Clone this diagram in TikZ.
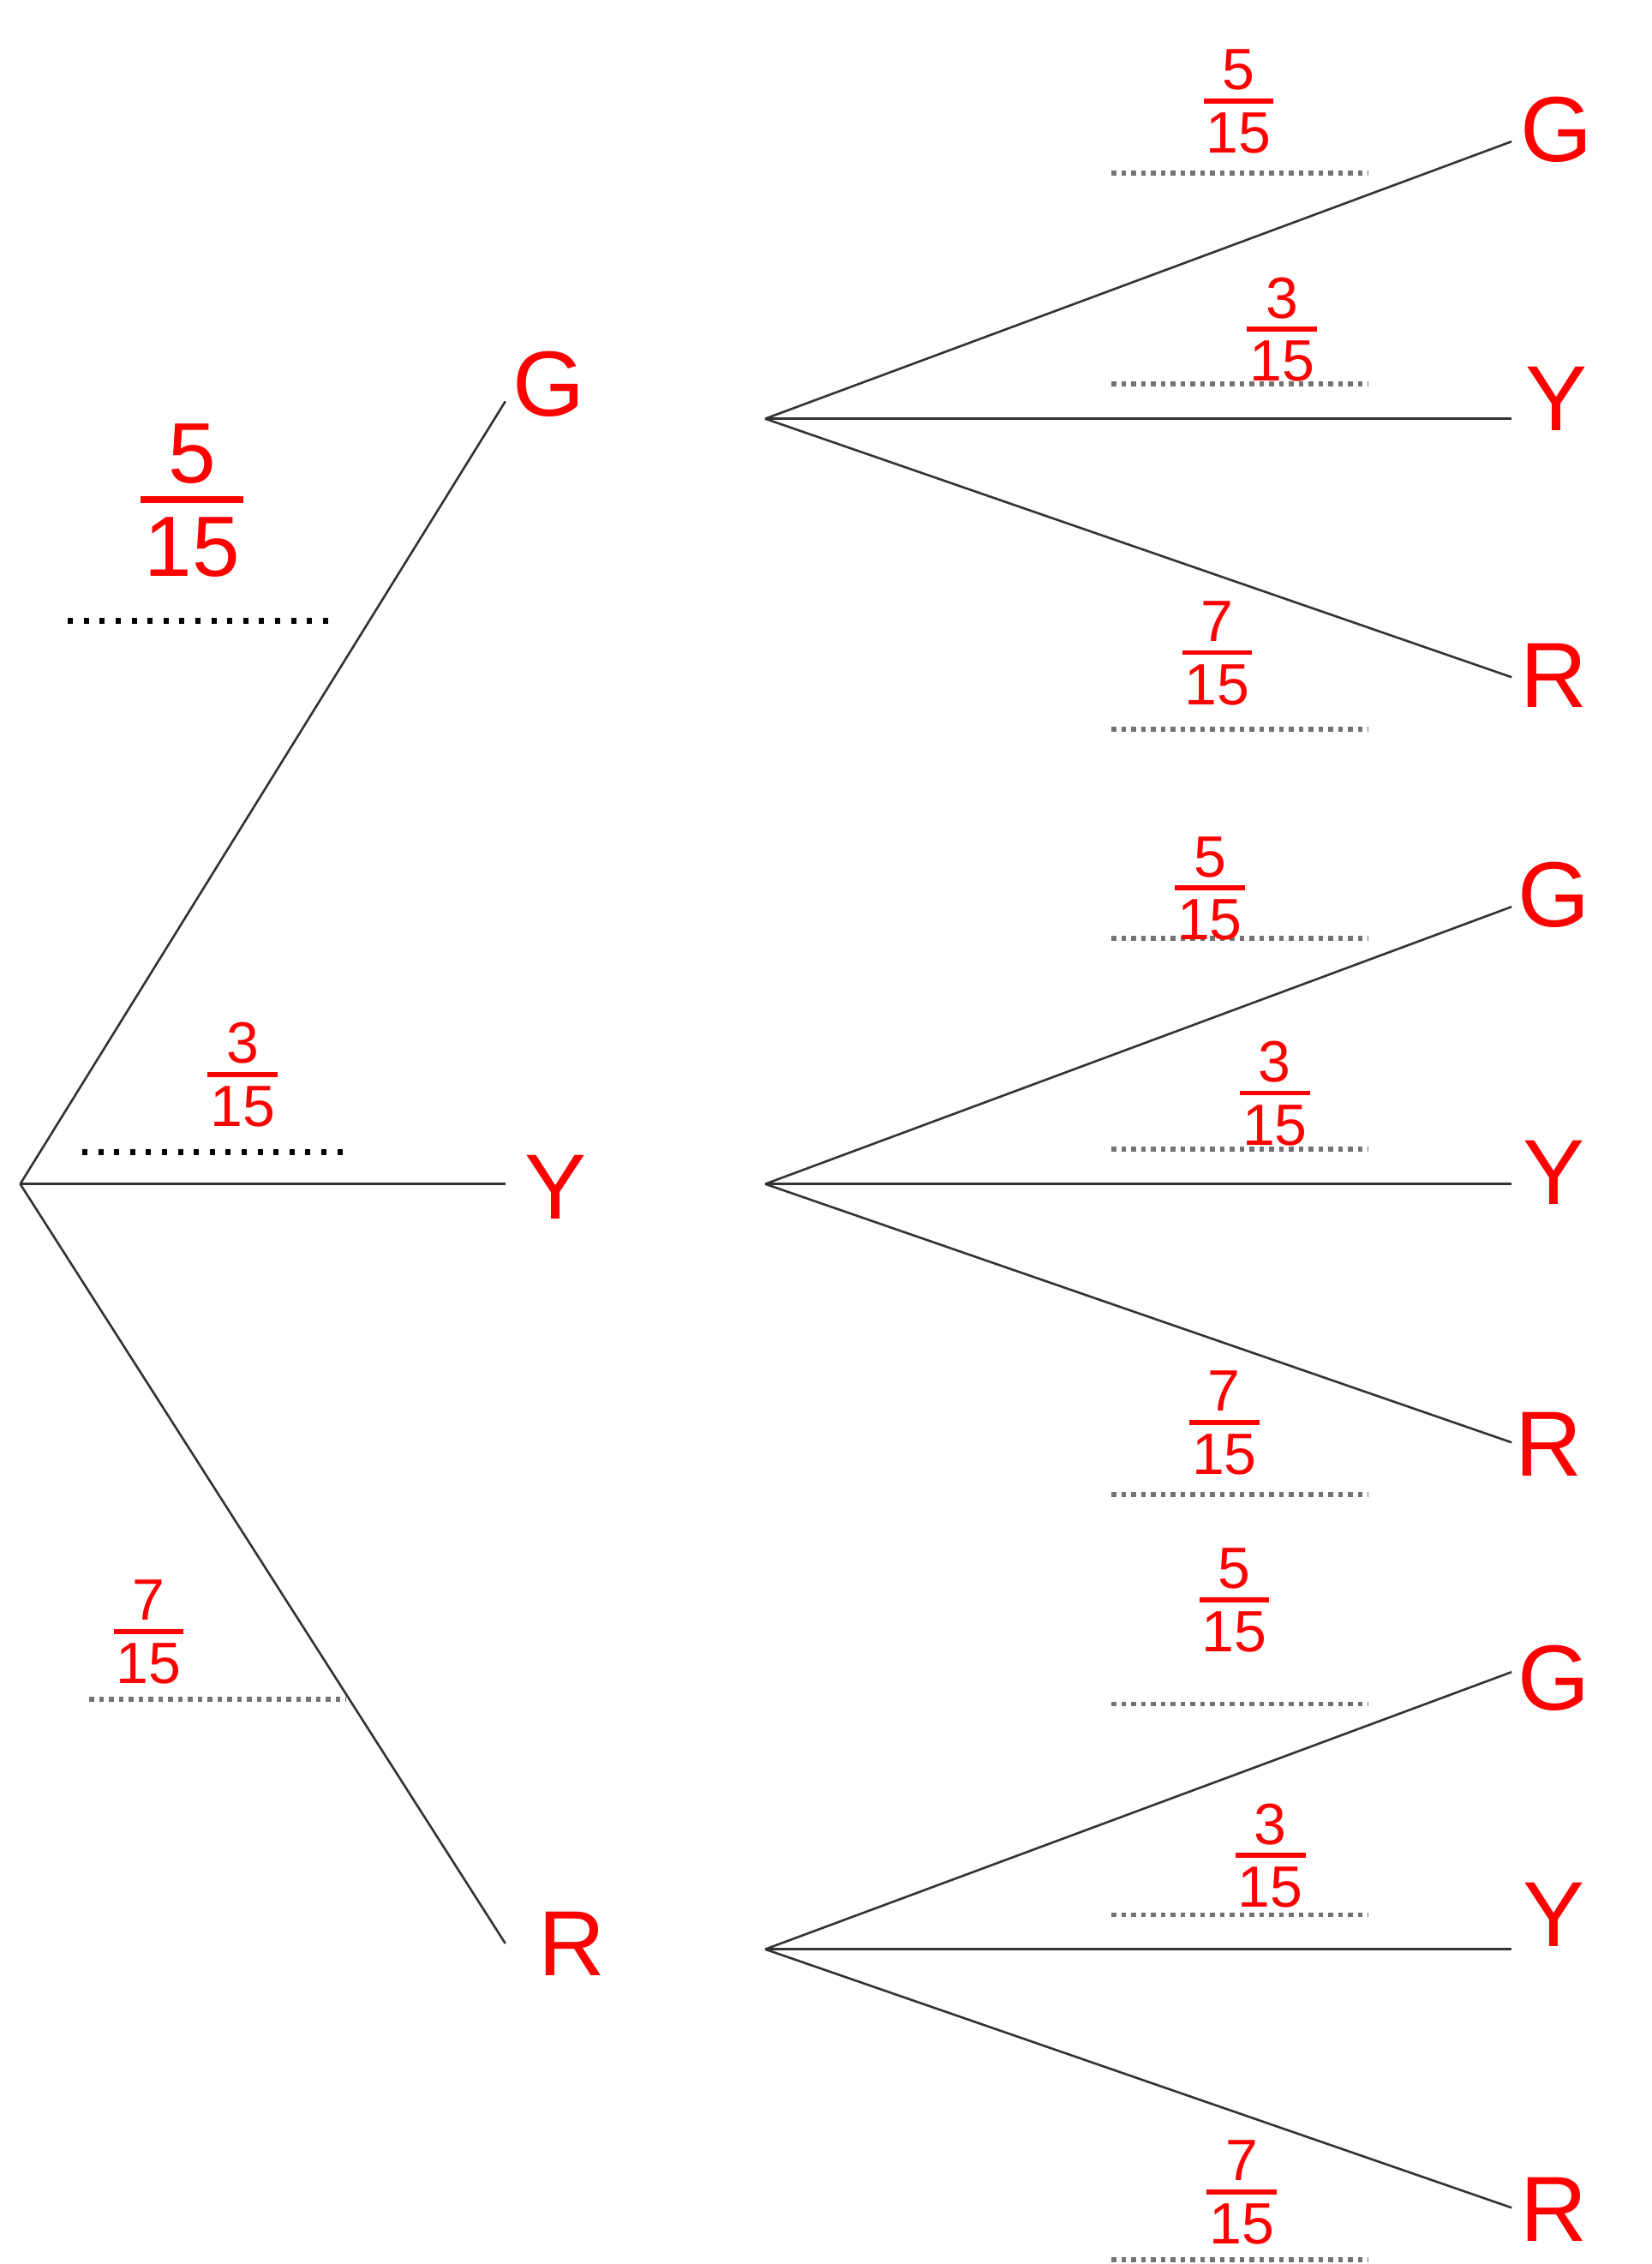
\documentclass[tikz,border=0pt]{standalone}
\usepackage{fontspec}
\setmainfont{Liberation Sans}
\newcommand{\hfr}[2]{\begin{tabular}{@{}c@{}}#1\\[-0.765em]\rule{1.2em}{0.085em}\\[-0.15em]#2\\[-0.3em]\end{tabular}}
\begin{document}
\begin{tikzpicture}[x=1.6853pt,y=-1.6853pt,
  branch/.style={line width=2.6pt, black!80},
  letter/.style={text=red, font=\fontsize{108}{108}\selectfont, inner sep=0pt},
  bigfrac/.style={text=red, font=\fontsize{100}{100}\selectfont, inner sep=0pt},
  smallfrac/.style={text=red, font=\fontsize{68}{68}\selectfont, inner sep=0pt},
  blackdots/.style={line width=7pt, black, dash pattern=on 6pt off 12.6pt},
  graydots/.style={line width=5.5pt, black!55, dash pattern=on 5.5pt off 6pt}]
\useasboundingbox (0,0) rectangle (1144,1568);
\fill[white] (0,0) rectangle (1144,1568);

% level 1
\coordinate (root) at (14,820);
\coordinate (e1G) at (350,278);
\coordinate (e1Y) at (350,820);
\coordinate (e1R) at (350,1346);
\draw[branch] (root) -- (e1G);
\draw[branch] (root) -- (e1Y);
\draw[branch] (root) -- (e1R);
\node[letter] (L1G) at (380,266) {G};
\node[letter] (L1Y) at (385,822) {Y};
\node[letter] (L1R) at (396,1346) {R};

% level 2 vertices
\coordinate (vG) at (530,290);
\coordinate (vY) at (530,820);
\coordinate (vR) at (530,1350);

\foreach \v/\yc in {vG/290, vY/820, vR/1350}{
  \coordinate (\v a) at (1047,\yc-192);
  \coordinate (\v b) at (1047,\yc);
  \coordinate (\v c) at (1047,\yc+179);
  \draw[branch] (\v) -- (\v a);
  \draw[branch] (\v) -- (\v b);
  \draw[branch] (\v) -- (\v c);
  \draw[graydots] (770,\yc-170) -- (948,\yc-170);
  \draw[graydots] (770,\yc-24) -- (948,\yc-24);
  \draw[graydots] (770,\yc+215) -- (948,\yc+215);
}

\node[letter] (G1) at (1078,90) {G};
\node[letter] (Y1) at (1078,276) {Y};
\node[letter] (R1) at (1076,468) {R};
\node[letter] (G2) at (1076,620) {G};
\node[letter] (Y2) at (1076,812) {Y};
\node[letter] (R2) at (1073,1000) {R};
\node[letter] (G3) at (1076,1162) {G};
\node[letter] (Y3) at (1076,1326) {Y};
\node[letter] (R3) at (1076,1530) {R};

% level 1 answer lines
\draw[blackdots] (47,430) -- (230,430);
\draw[blackdots] (57,798) -- (240,798);
\draw[graydots] (62,1177) -- (240,1177);

% level 1 fractions
\node[bigfrac] (f1) at (133,346) {\hfr{5}{15}};
\node[smallfrac] (f2) at (168,744) {\hfr{3}{15}};
\node[smallfrac] (f3) at (103,1130) {\hfr{7}{15}};

% level 2 fractions
\node[smallfrac] (fa1) at (858,70) {\hfr{5}{15}};
\node[smallfrac] (fa2) at (888,228) {\hfr{3}{15}};
\node[smallfrac] (fa3) at (843,452) {\hfr{7}{15}};
\node[smallfrac] (fb1) at (838,615) {\hfr{5}{15}};
\node[smallfrac] (fb2) at (883,757) {\hfr{3}{15}};
\node[smallfrac] (fb3) at (848,985) {\hfr{7}{15}};
\node[smallfrac] (fc1) at (855,1108) {\hfr{5}{15}};
\node[smallfrac] (fc2) at (880,1285) {\hfr{3}{15}};
\node[smallfrac] (fc3) at (860,1518) {\hfr{7}{15}};
\end{tikzpicture}
\end{document}
